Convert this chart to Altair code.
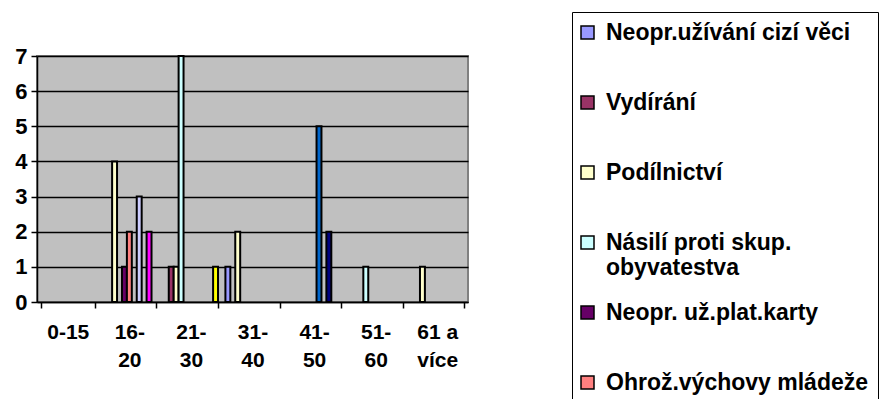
import altair as alt
import pandas as pd

# ---- data -------------------------------------------------------------
age_groups = ["0-15", "16-20", "21-30", "31-40", "41-50", "51-60", "61 a více"]
age_label_lines = {
    "0-15": ["0-15"],
    "16-20": ["16-", "20"],
    "21-30": ["21-", "30"],
    "31-40": ["31-", "40"],
    "41-50": ["41-", "50"],
    "51-60": ["51-", "60"],
    "61 a více": ["61 a", "více"],
}

series_names = [
    "Neopr.užívání cizí věci",
    "Vydírání",
    "Podílnictví",
    "Násilí proti skup. obyvatestva",
    "Neopr. už.plat.karty",
    "Ohrož.výchovy mládeže",
    "Řada 7",
    "Řada 8",
    "Řada 9",
    "Řada 10",
    "Řada 11",
]
series_colors = ["#9999FF", "#993366", "#FFFFCC", "#CCFFFF", "#660066", "#FF8080",
                 "#0066CC", "#CCCCFF", "#000080", "#FF00FF", "#FFFF00"]
legend_shown = series_names[:6]

neopr_uzivani = [0, 0, 0, 1, 0, 0, 0]
vydirani = [0, 0, 1, 0, 0, 0, 0]
podilnictvi = [0, 4, 1, 2, 0, 0, 1]
nasili = [0, 0, 7, 0, 0, 1, 0]
neopr_karty = [0, 1, 0, 0, 0, 0, 0]
ohrozeni = [0, 2, 0, 0, 0, 0, 0]
rada7 = [0, 0, 0, 0, 5, 0, 0]
rada8 = [0, 3, 0, 0, 0, 0, 0]
rada9 = [0, 0, 0, 0, 2, 0, 0]
rada10 = [0, 2, 0, 0, 0, 0, 0]
rada11 = [0, 0, 1, 0, 0, 0, 0]

series_values = [neopr_uzivani, vydirani, podilnictvi, nasili, neopr_karty, ohrozeni,
                 rada7, rada8, rada9, rada10, rada11]

rows = []
for name, vals in zip(series_names, series_values):
    for age, v in zip(age_groups, vals):
        rows.append({"vek": age, "serie": name, "pocet": v})
df = pd.DataFrame(rows)

# ---- label expressions ---------------------------------------------------
def js_list(items):
    return "[" + ",".join("'" + s + "'" for s in items) + "]"

x_label_expr = "datum.label"
for age in reversed(age_groups):
    x_label_expr = f"datum.label == '{age}' ? {js_list(age_label_lines[age])} : ({x_label_expr})"

legend_label_expr = (
    "datum.label == 'Násilí proti skup. obyvatestva' ? ['Násilí proti skup.', 'obyvatestva'] "
    ": [datum.label, '']"
)

FONT = "Liberation Sans"

chart = (
    alt.Chart(df)
    .transform_filter("datum.pocet > 0")
    .mark_bar(stroke="black", strokeWidth=2)
    .encode(
        x=alt.X(
            "vek:N",
            sort=age_groups,
            scale=alt.Scale(domain=age_groups, paddingInner=0.12, paddingOuter=0.06),
            axis=alt.Axis(
                title=None,
                labelAngle=0,
                tickBand="extent",
                labelExpr=x_label_expr,
                labelLineHeight=28,
                labelFont=FONT,
                labelFontSize=21,
                labelFontWeight="bold",
                labelColor="black",
                labelPadding=13,
                labelBaseline="top",
                domainColor="black",
                domainWidth=1.5,
                tickColor="black",
                tickWidth=1.5,
                tickSize=6,
                grid=False,
            ),
        ),
        xOffset=alt.XOffset(
            "serie:N",
            sort=series_names,
            scale=alt.Scale(domain=series_names, paddingInner=0, paddingOuter=0),
        ),
        y=alt.Y(
            "pocet:Q",
            scale=alt.Scale(domain=[0, 7], nice=False),
            axis=alt.Axis(
                title=None,
                values=list(range(8)),
                grid=True,
                gridColor="black",
                gridWidth=1.5,
                domainColor="black",
                domainWidth=1.5,
                tickColor="black",
                tickWidth=1.5,
                tickSize=6,
                labelPadding=4,
                labelFont=FONT,
                labelFontSize=22,
                labelFontWeight="bold",
                labelColor="black",
            ),
        ),
        color=alt.Color(
            "serie:N",
            scale=alt.Scale(domain=series_names, range=series_colors),
            legend=alt.Legend(
                title=None,
                orient="none",
                legendX=535,
                legendY=-44,
                values=legend_shown,
                symbolType="square",
                symbolSize=169,
                symbolStrokeColor="black",
                symbolStrokeWidth=1.5,
                symbolOpacity=1,
                symbolOffset=-5,
                labelFont=FONT,
                labelFontSize=23,
                labelFontWeight="bold",
                labelColor="black",
                labelLimit=500,
                labelOffset=7,
                labelExpr=legend_label_expr,
                padding=9,
                rowPadding=21,
                strokeColor="black",
            ),
        ),
    )
    .properties(
        width=431,
        height=246,
        autosize=alt.AutoSizeParams(type="none"),
        padding={"left": 29, "top": 48, "right": 419, "bottom": 97},
        background="white",
    )
    .configure_view(fill="#C0C0C0", stroke="#808080", strokeWidth=2)
)

chart.save("out.html", embed_options={"renderer": "svg", "actions": False})
